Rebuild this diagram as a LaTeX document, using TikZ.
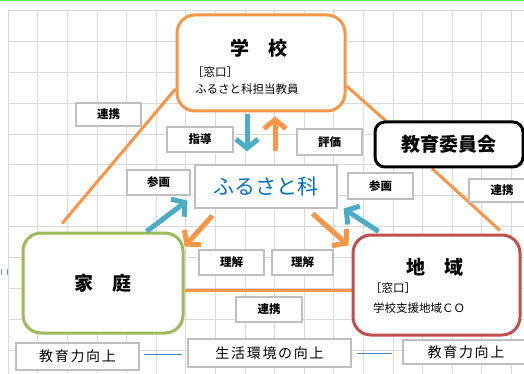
\documentclass[tikz,border=0pt]{standalone}
\usepackage{fontspec}
\setmainfont{Noto Sans CJK JP}
\usetikzlibrary{arrows.meta}
\definecolor{orng}{HTML}{F79646}
\definecolor{bluearr}{HTML}{4BACC6}
\definecolor{grn}{HTML}{9BBB59}
\definecolor{redc}{HTML}{C0504D}
\definecolor{txtblue}{HTML}{0070C0}
\definecolor{gridc}{HTML}{D9D9D9}
\definecolor{labgray}{HTML}{BFBFBF}
\definecolor{topgreen}{HTML}{66EE55}
\definecolor{linkblue}{HTML}{4F81BD}
\pgfdeclarelayer{bg}
\pgfdeclarelayer{grid}
\pgfsetlayers{grid,bg,main}
\tikzset{
  bigbox/.style={draw, fill=white, line width=3pt, inner sep=0pt, rounded corners=18pt},
  lbl/.style={draw=labgray, fill=white, line width=1.2pt, inner sep=0pt,
    font=\fontsize{11.5}{11.5}\selectfont\bfseries},
  btm/.style={draw=labgray, fill=white, line width=1.2pt, inner sep=0pt,
    font=\fontsize{14}{14}\selectfont\addfontfeatures{LetterSpace=12}},
  titletxt/.style={inner sep=0pt, font=\fontsize{19}{19}\selectfont\bfseries},
  smalltxt/.style={inner sep=0pt, anchor=west, font=\fontsize{11.5}{11.5}\selectfont},
  oline/.style={draw=orng, line width=3pt},
  barrow/.style={draw=bluearr, line width=5pt, -{Straight Barb[length=9pt,width=22pt]}},
  oarrow/.style={draw=orng, line width=5pt, -{Straight Barb[length=9pt,width=22pt]}},
  linkline/.style={draw=linkblue, line width=1pt},
}
\begin{document}
\begin{tikzpicture}[x=1pt,y=-1pt]
\useasboundingbox (0,0) rectangle (524,374);
\begin{pgfonlayer}{grid}
\fill[white] (0,0) rectangle (524,374);
\foreach \i in {0,...,17} \draw[gridc, line width=1pt] ({8.3+29.6*\i},10.5) -- ({8.3+29.6*\i},374);
\foreach \j in {0,...,11} \draw[gridc, line width=1pt] (8.3,{10.5+30.9*\j}) -- (524,{10.5+30.9*\j});
\draw[topgreen, line width=1.5pt] (0,0.7) -- (524,0.7);
\draw[bluearr, line width=1pt] (1,269) -- (1,275) (7,269) -- (7,275);
\end{pgfonlayer}

% main boxes
\node[bigbox, draw=orng, minimum width=168pt, minimum height=96pt] (gakko) at (261,63) {};
\node[bigbox, draw=black, rounded corners=10pt, minimum width=148pt, minimum height=45pt] (kyoiku) at (449,144.5)
  {\fontsize{19}{19}\selectfont\bfseries 教育委員会};
\node[bigbox, draw=grn, minimum width=160pt, minimum height=100pt] (katei) at (103,283)
  {\fontsize{19}{19}\selectfont\bfseries 家　庭};
\node[bigbox, draw=redc, minimum width=167pt, minimum height=100pt] (chiiki) at (436.5,285) {};
\node[draw=labgray, fill=white, line width=1.2pt, minimum width=142pt, minimum height=43pt,
  text=txtblue, font=\fontsize{21}{21}\selectfont] (furusato) at (266,186.5) {ふるさと科};

% texts inside boxes
\node[titletxt] (gakkot) at (259,48) {学　校};
\node[smalltxt] (gakkow) at (192,72) {［窓口］};
\node[smalltxt] (gakkop) at (195,89) {ふるさと科担当教員};
\node[titletxt] (chiikit) at (435,267) {地　域};
\node[smalltxt] (chiikiw) at (370,288) {［窓口］};
\node[smalltxt] (chiikip) at (373,308) {学校支援地域ＣＯ};

% orange link lines (behind boxes)
\begin{pgfonlayer}{bg}
\draw[oline] ([yshift=-26pt]gakko.west) -- ([xshift=-41pt,yshift=8pt]katei.north);
\draw[oline] ([yshift=-23pt]gakko.east) -- ([xshift=12pt]kyoiku.north west);
\draw[oline] ([xshift=-17pt]kyoiku.south) -- ([xshift=63.5pt,yshift=3pt]chiiki.north);
\draw[oline] ([yshift=-7pt]katei.east) -- ([yshift=-5pt]chiiki.west);
\end{pgfonlayer}

% labels
\node[lbl, minimum width=65pt, minimum height=23pt] (renL) at (108.5,114.5) {連携};
\node[lbl, minimum width=66pt, minimum height=25pt] (shido) at (200,139.5) {指導};
\node[lbl, minimum width=63pt, minimum height=25pt] (sankL) at (158.5,182.5) {参画};
\node[lbl, minimum width=65pt, minimum height=26pt] (hyoka) at (329.5,142) {評価};
\node[lbl, minimum width=65pt, minimum height=26pt] (sankR) at (380.5,186) {参画};
\node[lbl, minimum width=66pt, minimum height=23pt] (renR) at (502,190.5) {連携};
\node[lbl, minimum width=65pt, minimum height=25pt] (rikL) at (231.5,262.5) {理解};
\node[lbl, minimum width=61pt, minimum height=25pt] (rikR) at (302.5,262.5) {理解};
\node[lbl, minimum width=66pt, minimum height=25pt] (renB) at (269,309.5) {連携};

% bottom row
\node[btm, minimum width=123pt, minimum height=27pt] (ikuL) at (77.5,356.5) {教育力向上};
\node[btm, minimum width=163pt, minimum height=28pt] (seik) at (269.5,353) {生活環境の向上};
\node[btm, minimum width=126pt, minimum height=24pt] (ikuR) at (466,352) {教育力向上};
\draw[linkline] ([xshift=4pt,yshift=2.5pt]ikuL.east) -- ([xshift=-5pt,yshift=-1pt]seik.west);
\draw[linkline] ([xshift=5pt]seik.east) -- ([xshift=-10pt,yshift=-1pt]ikuR.west);

% arrows
\draw[barrow] ([xshift=-14pt,yshift=-2pt]gakko.south) -- ([xshift=-19pt,yshift=13pt]furusato.north);
\draw[oarrow] ([xshift=9pt,yshift=13pt]furusato.north) -- ([xshift=14pt,yshift=-4pt]gakko.south);
\draw[barrow] ([xshift=-38pt]katei.north east) -- ([xshift=-7pt,yshift=8pt]furusato.south west);
\draw[oarrow] ([xshift=18pt,yshift=-7pt]furusato.south west) -- ([yshift=-15pt]katei.north east);
\draw[oarrow] ([xshift=-25pt,yshift=-5pt]furusato.south east) -- ([xshift=-3pt,yshift=-12pt]chiiki.north west);
\draw[barrow] ([xshift=27pt,yshift=2pt]chiiki.north west) -- ([xshift=6pt]furusato.south east);
\end{tikzpicture}
\end{document}
